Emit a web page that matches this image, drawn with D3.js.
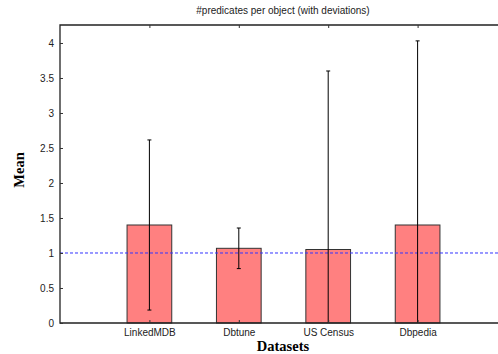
<!DOCTYPE html>
<html>
<head>
<meta charset="utf-8">
<script src="https://cdn.jsdelivr.net/npm/d3@7"></script>
<style>
  body { margin: 0; background: #fff; }
  text { font-family: "Liberation Sans", Arial, sans-serif; }
</style>
</head>
<body>
<svg id="chart" width="498" height="354"></svg>
<script>
// data
var categories = ["LinkedMDB", "Dbtune", "US Census", "Dbpedia"];
var means = [1.40, 1.067, 1.05, 1.40];
var deviations = [1.215, 0.29, 2.55, 2.63];
var yTicks = [0, 0.5, 1, 1.5, 2, 2.5, 3, 3.5, 4];
var referenceLine = 1;

var svg = d3.select("#chart");
var plotLeft = 60, plotTop = 25, plotBottom = 323, plotRight = 507;

// x is numeric: categories sit at 1..4, plot spans 0..5 (cut off on the right)
var x = d3.scaleLinear().domain([0, 5]).range([plotLeft, plotRight]);
var y = d3.scaleLinear().domain([0, 4.257]).range([plotBottom, plotTop]);

var data = categories.map(function (c, i) {
  return { name: c, pos: i + 1, mean: means[i], dev: deviations[i] };
});

var barHalf = 0.25;

// bars
svg.selectAll("rect.bar").data(data).enter().append("rect")
  .attr("class", "bar")
  .attr("x", function (d) { return x(d.pos - barHalf); })
  .attr("y", function (d) { return y(d.mean); })
  .attr("width", function (d) { return x(d.pos + barHalf) - x(d.pos - barHalf); })
  .attr("height", function (d) { return y(0) - y(d.mean); })
  .attr("fill", "#ff8080")
  .attr("stroke", "#333")
  .attr("stroke-width", 1);

// reference line at 1
svg.append("line")
  .attr("x1", plotLeft).attr("x2", 498)
  .attr("y1", y(referenceLine)).attr("y2", y(referenceLine))
  .attr("stroke", "#3333ff")
  .attr("stroke-width", 1)
  .attr("stroke-dasharray", "3,2");

// error bars, clipped at zero
function lo(d) { return Math.max(0, d.mean - d.dev); }
function hi(d) { return d.mean + d.dev; }
var eb = svg.selectAll("g.err").data(data).enter().append("g").attr("class", "err");
eb.append("line")
  .attr("x1", function (d) { return x(d.pos); })
  .attr("x2", function (d) { return x(d.pos); })
  .attr("y1", function (d) { return y(lo(d)); })
  .attr("y2", function (d) { return y(hi(d)); })
  .attr("stroke", "#000").attr("stroke-width", 1);
eb.append("line")
  .attr("x1", function (d) { return x(d.pos) - 2; })
  .attr("x2", function (d) { return x(d.pos) + 2; })
  .attr("y1", function (d) { return y(hi(d)); })
  .attr("y2", function (d) { return y(hi(d)); })
  .attr("stroke", "#000").attr("stroke-width", 1);
eb.filter(function (d) { return d.mean - d.dev > 0; }).append("line")
  .attr("x1", function (d) { return x(d.pos) - 2; })
  .attr("x2", function (d) { return x(d.pos) + 2; })
  .attr("y1", function (d) { return y(lo(d)); })
  .attr("y2", function (d) { return y(lo(d)); })
  .attr("stroke", "#000").attr("stroke-width", 1);

// frame
svg.append("path")
  .attr("d", "M498," + plotTop + "H" + plotLeft + "V" + plotBottom + "H498")
  .attr("fill", "none")
  .attr("stroke", "#222")
  .attr("stroke-width", 1.3);

// y axis (ticks drawn inward)
var yAxis = d3.axisLeft(y).tickValues(yTicks).tickSize(-3).tickPadding(6)
  .tickFormat(d3.format("~g"));
var gy = svg.append("g").attr("transform", "translate(" + plotLeft + ",0)").call(yAxis);
gy.select(".domain").remove();
gy.selectAll("line").attr("stroke", "#333");
gy.selectAll("text").attr("font-size", 10).attr("fill", "#222")
  .attr("font-family", "Liberation Sans, Arial, sans-serif");

// x axis labels at the bottom
var xAxis = d3.axisBottom(x).tickValues([1, 2, 3, 4]).tickSize(-3).tickPadding(6)
  .tickFormat(function (d) { return categories[d - 1]; });
var gx = svg.append("g").attr("transform", "translate(0," + plotBottom + ")").call(xAxis);
gx.select(".domain").remove();
gx.selectAll("line").attr("stroke", "#333");
gx.selectAll("text").attr("font-size", 10).attr("fill", "#222")
  .attr("font-family", "Liberation Sans, Arial, sans-serif");

// mirrored ticks on top
var gt = svg.append("g").attr("transform", "translate(0," + plotTop + ")")
  .call(d3.axisTop(x).tickValues([1, 2, 3, 4]).tickSize(-3).tickFormat(""));
gt.select(".domain").remove();
gt.selectAll("line").attr("stroke", "#333");

// title
svg.append("text")
  .attr("x", 283).attr("y", 14)
  .attr("text-anchor", "middle")
  .attr("font-size", 10)
  .attr("fill", "#222")
  .text("#predicates per object (with deviations)");

// axis titles
svg.append("text")
  .attr("x", 283).attr("y", 351)
  .attr("text-anchor", "middle")
  .style("font-family", "Liberation Serif, Times New Roman, serif")
  .attr("font-weight", "bold")
  .attr("font-size", 14.5)
  .text("Datasets");

svg.append("text")
  .attr("transform", "translate(24,170) rotate(-90)")
  .attr("text-anchor", "middle")
  .style("font-family", "Liberation Serif, Times New Roman, serif")
  .attr("font-weight", "bold")
  .attr("font-size", 14.5)
  .text("Mean");
</script>
</body>
</html>
